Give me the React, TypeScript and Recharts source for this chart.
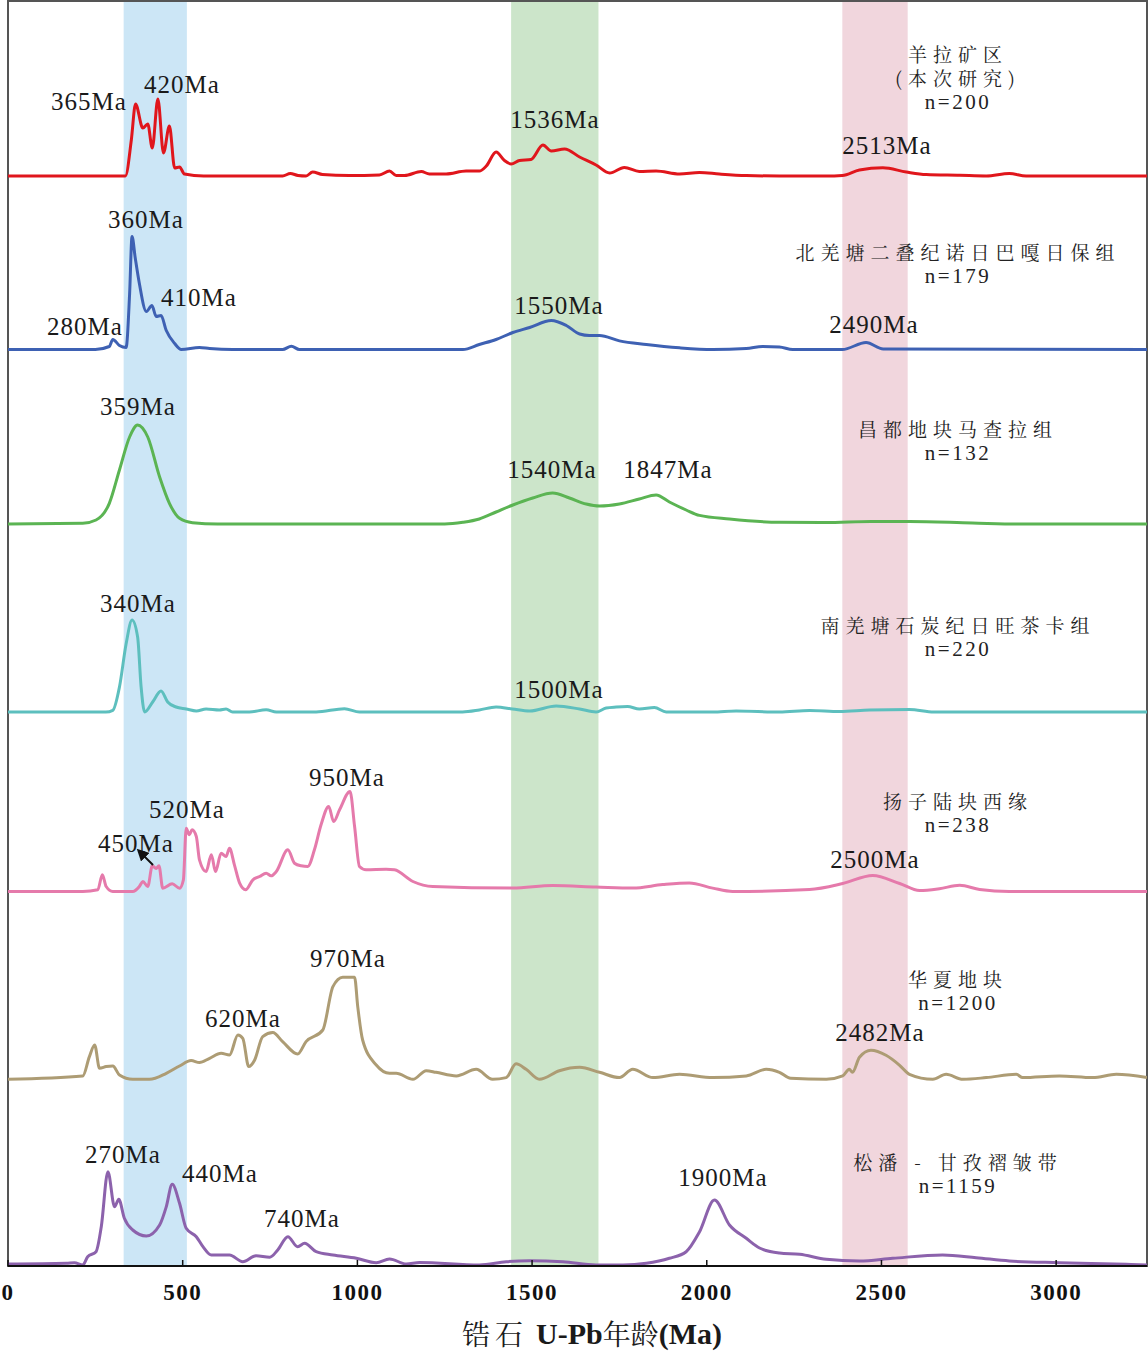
import React from "react";
import { LineChart, Line, XAxis, YAxis, ReferenceArea } from "recharts";

// Age spectra: [age (Ma), relative probability] per sample
const yangla: [number, number][] = [
  [0, 0], [200, 0], [336, 0], [353, 36], [365, 72], [386, 48], [400, 52], [413, 28], [429, 77],
  [445, 23], [462, 50], [477, 8], [491, 9], [505, 2], [560, 0], [786, 0], [808, 2.5], [830, 0.5],
  [853, 0], [872, 4], [900, 1.5], [977, 0.5], [1063, 1], [1092, 5], [1111, 0.5], [1135, 0.5],
  [1183, 4.5], [1206, 2], [1254, 2], [1311, 5], [1349, 5], [1369, 10], [1397, 24], [1421, 15.5],
  [1440, 12], [1464, 15.5], [1497, 16.5], [1531, 31], [1555, 25], [1593, 27], [1636, 19],
  [1683, 11], [1722, 3], [1764, 8.6], [1807, 4.5], [1855, 5], [1922, 2], [1979, 3.5], [2036, 2],
  [2113, 0.5], [2208, 0], [2342, 0], [2388, 0.5], [2437, 6], [2504, 8.3], [2571, 4], [2628, 1.4],
  [2724, 0.7], [2800, 0], [2866, 2.4], [2914, 0], [3009, 0], [3260, 0],
];

const northQiangtang: [number, number][] = [
  [0, 0], [250, 0], [290, 3], [300, 10], [319, 4], [338, 2], [348, 55], [355, 113], [364, 92],
  [376, 66], [396, 38], [412, 44], [424, 33], [438, 34], [453, 19], [477, 6], [496, 0], [548, 2],
  [577, 1], [643, 0], [786, 0], [811, 3.3], [834, 0], [1121, 0], [1302, 0], [1349, 5], [1397, 10],
  [1445, 17], [1493, 22], [1555, 29], [1598, 24], [1636, 15.5], [1664, 14], [1693, 14], [1750, 8.6],
  [1827, 5], [1922, 1.7], [2017, 0], [2113, 1], [2160, 3], [2208, 2.5], [2246, 0], [2388, 0],
  [2456, 7], [2505, 0.5], [3260, 0],
];

const changdu: [number, number][] = [
  [0, 0], [214, 0.7], [252, 4], [290, 20.7], [319, 54], [348, 87], [371, 99], [400, 87], [434, 47],
  [462, 20.7], [491, 5.7], [528, 1.3], [600, 0], [1250, 0], [1302, 1.7], [1349, 5], [1397, 12],
  [1445, 19], [1502, 26], [1559, 31], [1607, 26], [1655, 20], [1693, 18], [1750, 20], [1807, 25],
  [1855, 29], [1893, 22], [1941, 14], [1979, 8.6], [2065, 5], [2208, 1.7], [2340, 1.5], [2470, 2.5],
  [2580, 2.5], [2760, 1], [2900, 0], [3260, 0],
];

const southQiangtang: [number, number][] = [
  [0, 0], [280, 0], [300, 1.7], [319, 25], [338, 68], [355, 92], [371, 75], [381, 25], [391, 0],
  [414, 10], [438, 21], [457, 10], [481, 5], [510, 3], [539, 1], [567, 3], [605, 2], [624, 3],
  [643, 0], [691, 0], [739, 2.3], [768, 0], [882, 0], [963, 3.3], [1006, 0], [1121, 0], [1301, 0],
  [1349, 2], [1397, 5], [1444, 3], [1493, 1], [1569, 6], [1636, 3], [1683, 0], [1712, 4], [1741, 5],
  [1773, 5.5], [1807, 3], [1850, 4.5], [1884, 0], [2017, 0], [2084, 1], [2208, 0], [2294, 1.5],
  [2380, 0.5], [2466, 2], [2580, 2.5], [2650, 0], [3260, 0],
];

const yangtze: [number, number][] = [
  [0, 0], [214, 0], [257, 1.7], [270, 16.7], [281, 5], [300, 0], [357, 0], [376, 5], [386, 10],
  [400, 5], [413, 25.7], [424, 23], [432, 25.7], [443, 3.3], [470, 7.7], [491, 3.3], [502, 11.7],
  [510, 63.3], [519, 56.7], [527, 61.7], [539, 55], [548, 31.7], [567, 20], [582, 36.7], [594, 20],
  [610, 38.3], [624, 35], [634, 43.3], [648, 26.7], [663, 8.3], [680, 1.7], [701, 11.7], [720, 15],
  [739, 18.3], [753, 15.7], [768, 20], [801, 41.7], [820, 28.3], [839, 25.7], [858, 25], [877, 41.7],
  [896, 66.7], [918, 85], [932, 70], [949, 81.7], [979, 100], [992, 65], [1006, 25], [1025, 21.7],
  [1082, 22.3], [1106, 21.7], [1159, 10], [1216, 5], [1445, 3.4], [1559, 5.9], [1683, 4.5],
  [1788, 3.4], [1874, 6.9], [1950, 8.6], [2017, 3.4], [2074, 0], [2294, 2], [2389, 8], [2475, 16],
  [2552, 8], [2609, 1], [2666, 2.8], [2724, 6.2], [2781, 2], [2866, 0], [3260, 0],
];

const cathaysia: [number, number][] = [
  [0, 0], [214, 3.3], [233, 22.7], [248, 34.3], [262, 11], [281, 12.7], [300, 13.3], [319, 4.3],
  [357, 0], [405, 0], [453, 6], [491, 13.3], [524, 18.7], [548, 16.7], [577, 21], [610, 26],
  [634, 24.3], [658, 44.3], [672, 41], [689, 12.7], [706, 19.3], [729, 42.7], [758, 46.7],
  [786, 37.7], [829, 25.3], [853, 37.7], [901, 49.3], [930, 92.7], [958, 102], [992, 102],
  [1001, 72.7], [1015, 39.3], [1054, 14.3], [1092, 6], [1111, 6], [1159, 0], [1197, 8.6],
  [1225, 7], [1283, 3.4], [1340, 10], [1387, 0], [1426, 1.7], [1454, 15.5], [1483, 10], [1521, 0],
  [1578, 8.6], [1636, 12], [1693, 7], [1750, 1.7], [1788, 10], [1846, 1.7], [1922, 5], [2017, 1.7],
  [2113, 3.4], [2170, 10], [2208, 7], [2240, 1], [2342, 0], [2389, 3.4], [2408, 10], [2417, 7],
  [2437, 22], [2470, 29], [2513, 24], [2552, 14], [2580, 5], [2647, 0], [2685, 5], [2733, 0],
  [2800, 1.7], [2886, 5], [2904, 1.7], [3009, 3.4], [3105, 1.7], [3172, 5], [3260, 1.7],
];

const songpan: [number, number][] = [
  [0, 1], [167, 1.7], [190, 2.3], [214, 0], [228, 8.3], [252, 13.3], [267, 38.3], [286, 93.3],
  [305, 58.3], [317, 65.7], [333, 46.7], [357, 35], [396, 29], [434, 40], [453, 58.3], [470, 80.7],
  [491, 61.7], [510, 36.7], [539, 28.3], [558, 18.3], [582, 10], [634, 10], [672, 3.3], [710, 9.3],
  [749, 7.7], [772, 15], [801, 28.3], [829, 18.3], [849, 21.7], [882, 13.3], [930, 10], [997, 6.7],
  [1054, 2.3], [1092, 6], [1140, 1], [1178, 2.5], [1349, 0], [1426, 3.3], [1493, 4.3], [1588, 3.3],
  [1683, 0], [1760, 0], [1827, 1.7], [1893, 6.7], [1941, 13.3], [1979, 33], [2022, 65], [2065, 40],
  [2113, 26.7], [2151, 17], [2208, 12], [2266, 10.7], [2342, 5.7], [2437, 4], [2532, 6.7],
  [2675, 10], [2771, 7.3], [2866, 4], [3009, 2.3], [3200, 0.7], [3260, 0],
];

const ageTicks = [0, 500, 1000, 1500, 2000, 2500, 3000];

// highlighted age windows (Ma)
const bands = [
  { from: 331, to: 512, color: "#cce6f6" },
  { from: 1440, to: 1690, color: "#cce5ca" },
  { from: 2388, to: 2575, color: "#f1d6dd" },
];

// vertical stacking: each spectrum drawn on its own baseline
const stacks = [
  { name: "yangla", pts: yangla, base: 1090, color: "#e0161c" },
  { name: "nqt", pts: northQiangtang, base: 916.5, color: "#3e61b3" },
  { name: "changdu", pts: changdu, base: 742, color: "#5bb453" },
  { name: "sqt", pts: southQiangtang, base: 554, color: "#5dbfbe" },
  { name: "yangtze", pts: yangtze, base: 374.5, color: "#e57aab" },
  { name: "cathaysia", pts: cathaysia, base: 186.7, color: "#ad9c74" },
  { name: "songpan", pts: songpan, base: 1, color: "#8c62ac" },
];

const peakLabels = [
  { t: "365Ma", x: 89, y: 101 }, { t: "420Ma", x: 182, y: 84 }, { t: "1536Ma", x: 555, y: 119 },
  { t: "2513Ma", x: 887, y: 145 }, { t: "360Ma", x: 146, y: 219 }, { t: "410Ma", x: 199, y: 297 },
  { t: "280Ma", x: 85, y: 326 }, { t: "1550Ma", x: 559, y: 305 }, { t: "2490Ma", x: 874, y: 324 },
  { t: "359Ma", x: 138, y: 406 }, { t: "1540Ma", x: 552, y: 469 }, { t: "1847Ma", x: 668, y: 469 },
  { t: "340Ma", x: 138, y: 603 }, { t: "1500Ma", x: 559, y: 689 }, { t: "450Ma", x: 136, y: 843 },
  { t: "520Ma", x: 187, y: 809 }, { t: "950Ma", x: 347, y: 777 }, { t: "2500Ma", x: 875, y: 859 },
  { t: "970Ma", x: 348, y: 958 }, { t: "620Ma", x: 243, y: 1018 }, { t: "2482Ma", x: 880, y: 1032 },
  { t: "270Ma", x: 123, y: 1154 }, { t: "440Ma", x: 220, y: 1173 }, { t: "740Ma", x: 302, y: 1218 },
  { t: "1900Ma", x: 723, y: 1177 },
];

const sampleNames = [
  { lines: ["羊拉矿区", "(本次研究)", "n=200"], y: 53 },
  { lines: ["北羌塘二叠纪诺日巴嘎日保组", "n=179"], y: 251 },
  { lines: ["昌都地块马查拉组", "n=132"], y: 428 },
  { lines: ["南羌塘石炭纪日旺茶卡组", "n=220"], y: 624 },
  { lines: ["扬子陆块西缘", "n=238"], y: 800 },
  { lines: ["华夏地块", "n=1200"], y: 978 },
  { lines: ["松潘 - 甘孜褶皱带", "n=1159"], y: 1161 },
];

const SERIF = "'Liberation Serif', 'Times New Roman', 'Noto Sans CJK SC', serif";
const CJK = "'Noto Serif CJK SC', 'Noto Sans CJK SC', sans-serif";

const AgeTick = ({ x, y, payload }: any) => (
  <text
    x={x}
    y={y + 30}
    textAnchor="middle"
    dominantBaseline="central"
    fontFamily={SERIF}
    fontWeight="bold"
    fontSize={23}
    letterSpacing={1.5}
    fill="#111"
  >
    {payload.value}
  </text>
);

const W = 1148;
const H = 1354;

export default function App() {
  return (
    <div style={{ position: "absolute", left: 0, top: 0, width: W, height: H, background: "#fff" }}>
      <LineChart width={W} height={H} margin={{ top: 1, right: 1, left: 8, bottom: 0 }}>
        <XAxis
          dataKey="age"
          type="number"
          domain={[0, 3260]}
          ticks={ageTicks}
          allowDataOverflow
          height={88}
          tickSize={-6}
          tick={<AgeTick />}
          axisLine={{ stroke: "#111", strokeWidth: 2 }}
          tickLine={{ stroke: "#111", strokeWidth: 1.5 }}
        />
        <YAxis
          type="number"
          domain={[0, 1265]}
          width={0}
          tick={false}
          tickLine={false}
          axisLine={{ stroke: "#111", strokeWidth: 2 }}
        />
        {bands.map((b) => (
          <ReferenceArea
            key={b.from}
            x1={b.from}
            x2={b.to}
            y1={0}
            y2={1265}
            fill={b.color}
            fillOpacity={1}
            stroke="none"
          />
        ))}
        <ReferenceArea x1={0} x2={3260} y1={0} y2={1265} fill="none" stroke="#555" strokeWidth={2} />
        {stacks.map((s) => (
          <Line
            key={s.name}
            data={s.pts.map(([age, p]) => ({ age, v: s.base + p }))}
            dataKey="v"
            type="monotone"
            stroke={s.color}
            strokeWidth={3}
            dot={false}
            activeDot={false}
            isAnimationActive={false}
          />
        ))}
      </LineChart>
      <svg
        width={W}
        height={H}
        style={{ position: "absolute", left: 0, top: 0, pointerEvents: "none" }}
      >
        <defs>
          <marker id="head" markerWidth="6" markerHeight="6" refX="3" refY="3" orient="auto">
            <path d="M0,0 L6,3 L0,6 z" fill="#111" />
          </marker>
        </defs>
        {peakLabels.map((l) => (
          <text
            key={l.t + l.y}
            x={l.x}
            y={l.y}
            textAnchor="middle"
            dominantBaseline="central"
            fontFamily={SERIF}
            fontSize={25}
            letterSpacing={1}
            fill="#1a1a1a"
          >
            {l.t}
          </text>
        ))}
        <line x1={153} y1={865} x2={141} y2={853} stroke="#111" strokeWidth={2} markerEnd="url(#head)" />
        {sampleNames.map((s) =>
          s.lines.map((ln, i) => {
            const isCount = ln.startsWith("n=");
            return (
              <text
                key={ln}
                x={958}
                y={s.y + i * 24.5}
                textAnchor="middle"
                dominantBaseline="central"
                fontFamily={isCount ? SERIF : CJK}
                fontSize={isCount ? 21 : 19}
                letterSpacing={isCount ? 2.5 : 6}
                fill="#222"
              >
                {ln}
              </text>
            );
          })
        )}
        <text
          x={592}
          y={1333}
          textAnchor="middle"
          dominantBaseline="central"
          fill="#1a1a1a"
          fontSize={28}
        >
          <tspan fontFamily={CJK} letterSpacing={5}>锆石</tspan>
          <tspan fontFamily={SERIF} fontWeight="bold" fontSize={30} dx={8}>U-Pb</tspan>
          <tspan fontFamily={CJK}>年龄</tspan>
          <tspan fontFamily={SERIF} fontWeight="bold" fontSize={30}>(Ma)</tspan>
        </text>
      </svg>
    </div>
  );
}
